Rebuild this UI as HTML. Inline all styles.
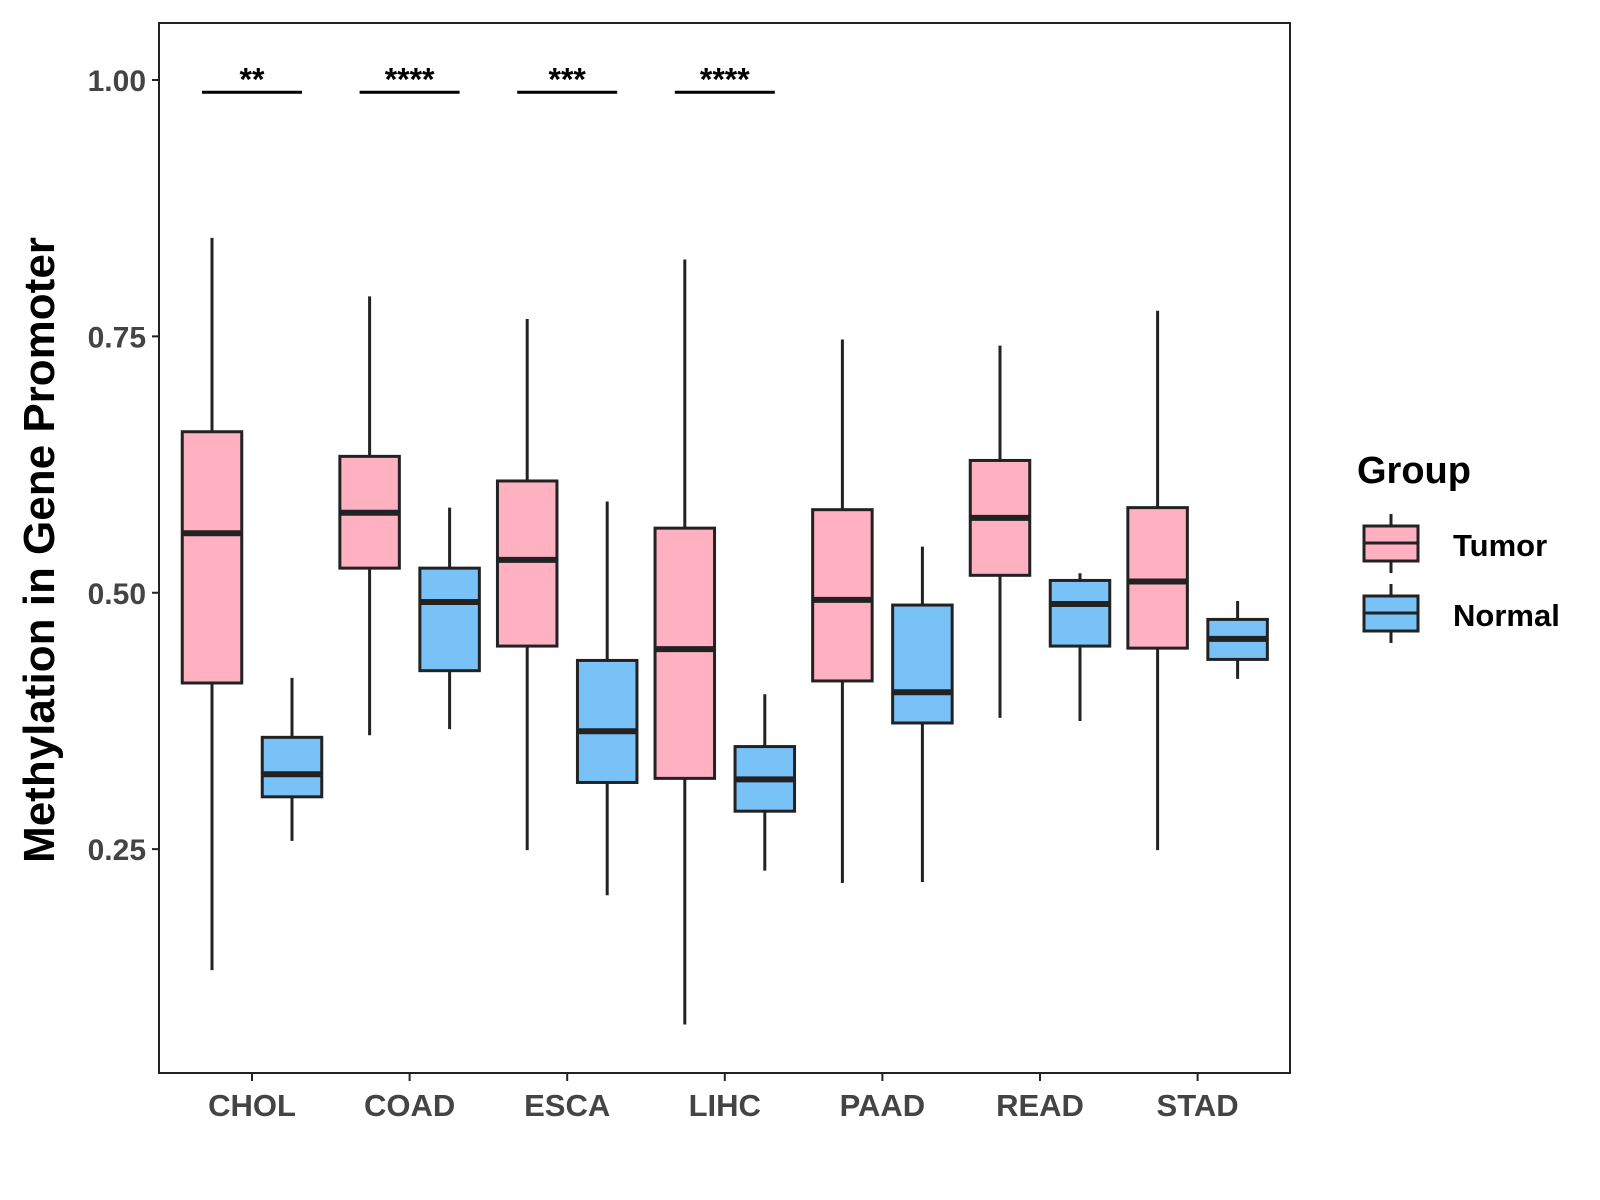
<!DOCTYPE html>
<html><head><meta charset="utf-8"><style>
body{margin:0;background:#fff;}
svg{display:block;font-family:"Liberation Sans",Arial,sans-serif;}
</style></head><body>
<svg id="chart" width="1600" height="1200" viewBox="0 0 1600 1200">
<rect x="159" y="23" width="1131" height="1050" fill="#fff" stroke="#222" stroke-width="2"/>
<g id="marks"></g>
<text transform="translate(54,550) rotate(-90)" text-anchor="middle" font-size="44" font-weight="bold" fill="#000">Methylation in Gene Promoter</text>
<g>
<text x="1357" y="483" font-size="38" font-weight="bold">Group</text>
<g>
<line x1="1398" y1="514" x2="1398" y2="573" stroke="#222" stroke-width="3" transform="translate(-7,0)"/>
<rect x="1364" y="526" width="54" height="35" fill="#FFB0C1" stroke="#222" stroke-width="3"/>
<line x1="1364" y1="543" x2="1418" y2="543" stroke="#222" stroke-width="3"/>
<text x="1453" y="556" font-size="31" font-weight="bold">Tumor</text>
</g>
<g>
<line x1="1391" y1="584" x2="1391" y2="643" stroke="#222" stroke-width="3"/>
<rect x="1364" y="596" width="54" height="35" fill="#78C2F8" stroke="#222" stroke-width="3"/>
<line x1="1364" y1="613" x2="1418" y2="613" stroke="#222" stroke-width="3"/>
<text x="1453" y="626" font-size="31" font-weight="bold">Normal</text>
</g>
</g>
</svg>
<script>
const categories=["CHOL","COAD","ESCA","LIHC","PAAD","READ","STAD"];
// [low, q1, median, q3, high]
const tumorStats=[[0.132,0.412,0.558,0.657,0.846],[0.361,0.524,0.578,0.633,0.789],[0.249,0.448,0.532,0.609,0.767],[0.079,0.319,0.445,0.563,0.825],[0.217,0.414,0.493,0.581,0.747],[0.378,0.517,0.573,0.629,0.741],[0.249,0.446,0.511,0.583,0.775]];
const normalStats=[[0.258,0.301,0.323,0.359,0.417],[0.367,0.424,0.491,0.524,0.583],[0.205,0.315,0.365,0.434,0.589],[0.229,0.287,0.318,0.350,0.401],[0.218,0.373,0.403,0.488,0.545],[0.375,0.448,0.489,0.512,0.519],[0.416,0.435,0.455,0.474,0.492]];
const yTicks=[0.25,0.50,0.75,1.00];
const yTickLabels=["0.25","0.50","0.75","1.00"];
const sigLabels=["**","****","***","****"];
const sigLevel=0.988;

const NS="http://www.w3.org/2000/svg";
const g=document.getElementById('marks');
function y(v){return 80+(1-v)*1025.5;}
function x(i){return 252+i*157.6;}
function mk(tag,a,parent){const e=document.createElementNS(NS,tag);for(const k in a)e.setAttribute(k,a[k]);(parent||g).appendChild(e);return e;}

yTicks.forEach((t,i)=>{
  const tk=mk('line',{x1:152,x2:159,y1:y(t),y2:y(t),stroke:'#222','stroke-width':2});
  
  
  const lb=mk('text',{x:146,y:y(t)+11,'text-anchor':'end','font-size':30,'font-weight':'bold',fill:'#444'});
  lb.textContent=yTickLabels[i];
  
  
});
categories.forEach((c,i)=>{
  const tk=mk('line',{x1:x(i),x2:x(i),y1:1073,y2:1081,stroke:'#222','stroke-width':2});
  
  
  const lb=mk('text',{x:x(i),y:1116,'text-anchor':'middle','font-size':31,'font-weight':'bold',fill:'#444'});
  lb.textContent=c;
  
  
});
function box(cx,s,fill,name){
  const grp=mk('g',{});
  
  
  const w=59.5;
  mk('line',{x1:cx,x2:cx,y1:y(s[0]),y2:y(s[4]),stroke:'#222','stroke-width':3},grp);
  mk('rect',{x:cx-w/2,y:y(s[3]),width:w,height:y(s[1])-y(s[3]),fill:fill,stroke:'#222','stroke-width':3},grp);
  mk('line',{x1:cx-w/2,x2:cx+w/2,y1:y(s[2]),y2:y(s[2]),stroke:'#222','stroke-width':6},grp);
}
categories.forEach((c,i)=>{
  box(x(i)-40,tumorStats[i],'#FFB0C1','box-tumor-'+c.toLowerCase());
  box(x(i)+40,normalStats[i],'#78C2F8','box-normal-'+c.toLowerCase());
});
sigLabels.forEach((s,i)=>{
  const ln=mk('line',{x1:x(i)-50,x2:x(i)+50,y1:y(sigLevel),y2:y(sigLevel),stroke:'#000','stroke-width':3});
  
  
  const t=mk('text',{x:x(i),y:y(sigLevel)-2,'text-anchor':'middle','font-size':32,'font-weight':'bold',fill:'#000'});
  t.textContent=s;
  
  
});
</script>
</body></html>
